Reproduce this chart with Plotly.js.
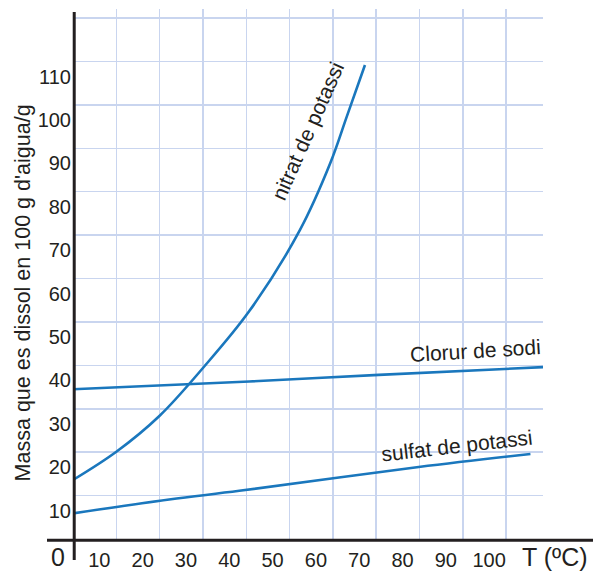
<!DOCTYPE html>
<html>
<head>
<meta charset="utf-8">
<script src="https://cdn.plot.ly/plotly-3.0.1.min.js"></script>
<style>html,body{margin:0;padding:0;background:#fff;}#chart{width:593px;height:571px;}</style>
</head>
<body>
<div id="chart"></div>
<script>
// Data (temperature °C, grams per 100 g water)
const nitratT = [0, 10, 20, 30, 40.7, 52.4, 59.4, 63.2, 67.4];
const nitratM = [13.6, 20.1, 28.4, 39.4, 52.5, 71.2, 86.6, 97.3, 109.2];
const clorurT = [0, 40.7, 70.6, 108.5];
const clorurM = [34.5, 36.3, 37.8, 39.6];
const sulfatT = [0, 22.2, 38.4, 79.8, 105.6];
const sulfatM = [5.9, 9.1, 11.1, 16.6, 19.6];

const xTickVals = [10, 20, 30, 40, 50, 60, 70, 80, 90, 100];
const xTickText = ["10", "20", "30", "40", "50", "60", "70", "80", "90", "100"];
const yTickVals = [10, 20, 30, 40, 50, 60, 70, 80, 90, 100, 110, 120];
const yTickText = ["10", "20", "30", "40", "50", "60", "70", "80", "90", "100", "110", ""];

const seriesNames = ["nitrat de potassi", "Clorur de sodi", "sulfat de potassi"];
const yTitle = "Massa que es dissol en 100 g d'aigua/g";
const xTitle = "T (ºC)";
const originLabel = "0";

const BLUE = "#1a77bd";
const GRID = "#c9d5ef";
const INK = "#231f20";
const FONT = "Liberation Sans, Arial, sans-serif";

const lineStyle = {color: BLUE, width: 2.6, shape: "spline", smoothing: 1};

const data = [
  {x: nitratT, y: nitratM, mode: "lines", line: lineStyle, name: seriesNames[0], hoverinfo: "skip"},
  {x: clorurT, y: clorurM, mode: "lines", line: lineStyle, name: seriesNames[1], hoverinfo: "skip"},
  {x: sulfatT, y: sulfatM, mode: "lines", line: lineStyle, name: seriesNames[2], hoverinfo: "skip"}
];

const layout = {
  width: 593, height: 571,
  margin: {l: 73, r: 50, t: 9, b: 32, pad: 0},
  paper_bgcolor: "#fff", plot_bgcolor: "#fff",
  showlegend: false,
  font: {family: FONT, color: INK},
  xaxis: {
    range: [0, 108.5], fixedrange: true,
    tickmode: "array", tickvals: xTickVals, ticktext: xTickText,
    showgrid: true, gridcolor: GRID, gridwidth: 1.5,
    zeroline: false, showline: false, ticks: "",
    tickfont: {size: 20, color: INK, family: FONT},
    ticklabelshift: -17, ticklabelstandoff: 7
  },
  yaxis: {
    range: [0, 122.1], fixedrange: true,
    tickmode: "array", tickvals: yTickVals, ticktext: yTickText,
    showgrid: true, gridcolor: GRID, gridwidth: 1.5,
    zeroline: false, showline: false, ticks: "",
    tickfont: {size: 20, color: INK, family: FONT},
    ticklabelshift: 15, ticklabelstandoff: 1
  },
  shapes: [
    {type: "line", xref: "paper", yref: "paper", x0: -0.0553, x1: 1.1064, y0: -0.0025, y1: -0.0025,
     line: {color: INK, width: 3}},
    {type: "line", xref: "paper", yref: "paper", x0: 0.0026, x1: 0.0026, y0: -0.0394, y1: 0.9945,
     line: {color: INK, width: 3}}
  ],
  annotations: [
    {text: seriesNames[0], xref: "x", yref: "y", x: 54.3, y: 94.0, showarrow: false,
     textangle: -66, font: {size: 21, color: INK, family: FONT}},
    {text: seriesNames[1], xref: "x", yref: "y", x: 93.0, y: 43.5, showarrow: false,
     textangle: -3.5, font: {size: 21, color: INK, family: FONT}},
    {text: seriesNames[2], xref: "x", yref: "y", x: 88.7, y: 21.6, showarrow: false,
     textangle: -6.5, font: {size: 21, color: INK, family: FONT}},
    {text: yTitle, xref: "paper", yref: "paper", x: (23 - 73) / 470, y: (539.1 - 293.5) / 530,
     xanchor: "center", yanchor: "middle", showarrow: false, textangle: -90,
     font: {size: 21.5, color: INK, family: FONT}},
    {text: xTitle, xref: "paper", yref: "paper", x: (555 - 73) / 470, y: (539.1 - 557.5) / 530,
     xanchor: "center", yanchor: "middle", showarrow: false,
     font: {size: 25, color: INK, family: FONT}},
    {text: originLabel, xref: "paper", yref: "paper", x: (57.5 - 73) / 470, y: (539.1 - 557.5) / 530,
     xanchor: "center", yanchor: "middle", showarrow: false,
     font: {size: 25, color: INK, family: FONT}}
  ]
};

Plotly.newPlot("chart", data, layout, {staticPlot: true, displayModeBar: false});
</script>
</body>
</html>
